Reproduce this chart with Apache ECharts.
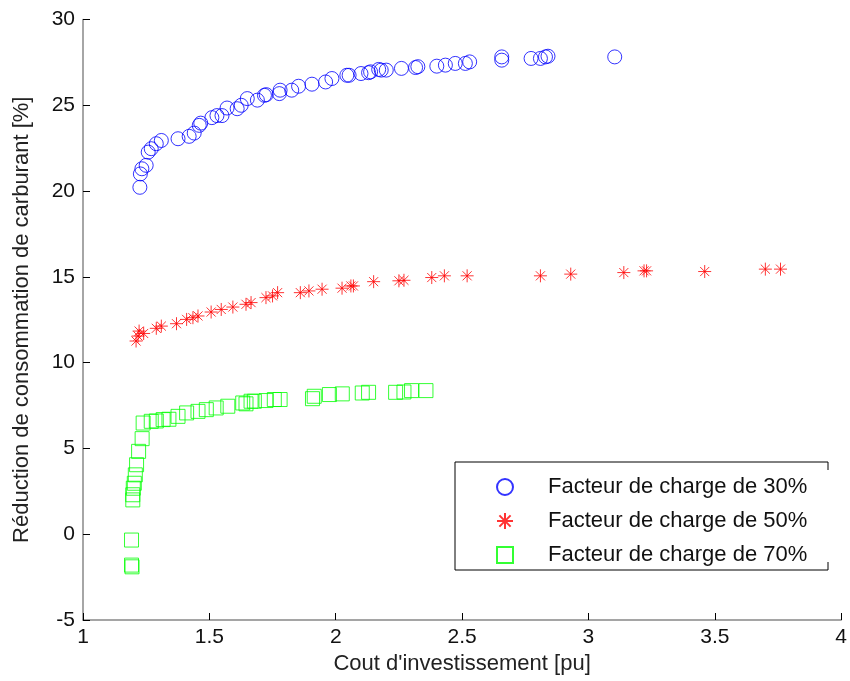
<!DOCTYPE html>
<html><head><meta charset="utf-8">
<script src="https://cdn.jsdelivr.net/npm/echarts@6/dist/echarts.min.js"></script>
<style>html,body{margin:0;padding:0;background:#fff}#c{width:850px;height:681px}</style>
</head><body><div id="c"></div>
<script>
var seriesNames = ['Facteur de charge de 30%', 'Facteur de charge de 50%', 'Facteur de charge de 70%'];
var xTicks = [1, 1.5, 2, 2.5, 3, 3.5, 4];
var yTicks = [-5, 0, 5, 10, 15, 20, 25, 30];

var fc30 = [
 [1.225,20.22],[1.227,21.0],[1.233,21.3],[1.25,21.5],[1.258,22.27],[1.27,22.47],[1.29,22.76],[1.31,22.95],
 [1.376,23.05],[1.42,23.19],[1.44,23.38],[1.46,23.83],[1.466,23.96],[1.51,24.28],[1.53,24.4],[1.55,24.4],
 [1.57,24.84],[1.61,24.8],[1.626,25.0],[1.65,25.39],[1.69,25.3],[1.718,25.58],[1.725,25.62],[1.777,25.68],
 [1.78,25.88],[1.826,25.88],[1.853,26.11],[1.906,26.23],[1.96,26.36],[1.985,26.56],[2.044,26.75],[2.053,26.75],
 [2.1,26.85],[2.13,26.9],[2.138,26.95],[2.17,27.09],[2.18,27.05],[2.2,27.05],[2.26,27.15],[2.316,27.2],
 [2.325,27.25],[2.40,27.28],[2.434,27.34],[2.473,27.44],[2.513,27.44],[2.53,27.53],[2.657,27.63],[2.657,27.82],
 [2.773,27.73],[2.81,27.73],[2.83,27.82],[2.84,27.86],[3.104,27.82]
];
var fc50 = [
 [1.21,11.26],[1.218,11.55],[1.222,11.84],[1.24,11.7],[1.29,12.0],[1.31,12.13],[1.37,12.27],[1.41,12.52],
 [1.435,12.62],[1.455,12.72],[1.507,12.95],[1.547,13.1],[1.593,13.24],[1.645,13.4],[1.665,13.5],[1.724,13.79],
 [1.75,13.89],[1.77,14.08],[1.86,14.08],[1.894,14.18],[1.946,14.28],[2.025,14.34],[2.06,14.47],[2.07,14.47],
 [2.15,14.72],[2.25,14.77],[2.27,14.8],[2.38,14.96],[2.43,15.06],[2.52,15.06],[2.81,15.06],[2.93,15.16],
 [3.14,15.25],[3.22,15.35],[3.23,15.35],[3.46,15.31],[3.70,15.45],[3.76,15.45]
];
var fc70 = [
 [1.192,-0.34],[1.192,-1.8],[1.194,-1.9],[1.197,2.0],[1.197,2.3],[1.199,2.68],[1.203,2.97],[1.207,3.46],
 [1.212,4.05],[1.22,4.83],[1.234,5.57],[1.238,6.48],[1.27,6.58],[1.29,6.6],[1.317,6.68],[1.34,6.7],
 [1.376,6.87],[1.41,7.07],[1.455,7.16],[1.488,7.26],[1.527,7.36],[1.573,7.46],[1.632,7.65],[1.645,7.6],
 [1.665,7.75],[1.678,7.75],[1.724,7.79],[1.757,7.85],[1.78,7.85],[1.908,7.9],[1.915,8.04],[1.975,8.14],
 [2.026,8.18],[2.105,8.23],[2.13,8.27],[2.237,8.27],[2.27,8.29],[2.30,8.37],[2.357,8.37]
];

var starPath = 'path://M0,5L10,5M5,0L5,10M1.5,1.5L8.5,8.5M8.5,1.5L1.5,8.5';
var chart = echarts.init(document.getElementById('c'), null, {renderer: 'canvas'});
var font = '"Liberation Sans", Arial, sans-serif';
chart.setOption({
  animation: false,
  backgroundColor: '#fff',
  textStyle: {fontFamily: font},
  grid: {left: 83, right: 7, top: 19.5, bottom: 61, containLabel: false},
  xAxis: {
    type: 'value', min: xTicks[0], max: xTicks[xTicks.length-1], interval: 0.5,
    name: "Cout d'investissement [pu]", nameLocation: 'middle', nameGap: 31,
    nameTextStyle: {fontSize: 22, color: '#222', fontFamily: font},
    axisLine: {show: true, onZero: false, lineStyle: {color: '#888', width: 1.5}},
    axisTick: {show: true, inside: true, length: 7, lineStyle: {color: '#000'}},
    axisLabel: {fontSize: 21, color: '#111', margin: 7, fontFamily: font},
    splitLine: {show: false}
  },
  yAxis: {
    type: 'value', min: yTicks[0], max: yTicks[yTicks.length-1], interval: 5,
    name: 'Réduction de consommation de carburant [%]', nameLocation: 'middle', nameGap: 50,
    nameTextStyle: {fontSize: 22, color: '#222', fontFamily: font},
    axisLine: {show: true, onZero: false, lineStyle: {color: '#888', width: 1.5}},
    axisTick: {show: true, inside: true, length: 7, lineStyle: {color: '#000'}},
    axisLabel: {fontSize: 21, color: '#111', margin: 8, fontFamily: font},
    splitLine: {show: false}
  },
  legend: {
    orient: 'vertical', left: 491, top: 471,
    itemWidth: 16, itemHeight: 16, itemGap: 12,
    textStyle: {fontSize: 22, color: '#111', fontFamily: font, padding: [0,0,0,30]},
    data: seriesNames
  },
  graphic: [
    {type: 'polyline', shape: {points: [[828,462],[455,462],[455,570],[828,570]]}, style: {stroke: '#000', lineWidth: 1, fill: 'none'}, silent: true},
    {type: 'line', shape: {x1: 828, y1: 462, x2: 828, y2: 470}, style: {stroke: '#000', lineWidth: 1}},
    {type: 'line', shape: {x1: 828, y1: 562, x2: 828, y2: 570}, style: {stroke: '#000', lineWidth: 1}}
  ],
  series: [
    {name: seriesNames[0], type: 'scatter', data: fc30, symbol: 'circle', symbolSize: 14,
     itemStyle: {color: 'rgba(0,0,0,0)', borderColor: '#0000ff', borderWidth: 1}},
    {name: seriesNames[1], type: 'scatter', data: fc50, symbol: starPath, symbolSize: 13,
     itemStyle: {color: 'rgba(0,0,0,0)', borderColor: '#ff0000', borderWidth: 1}},
    {name: seriesNames[2], type: 'scatter', data: fc70, symbol: 'rect', symbolSize: 14,
     itemStyle: {color: 'rgba(0,0,0,0)', borderColor: '#00ff00', borderWidth: 1}}
  ]
});
</script></body></html>
